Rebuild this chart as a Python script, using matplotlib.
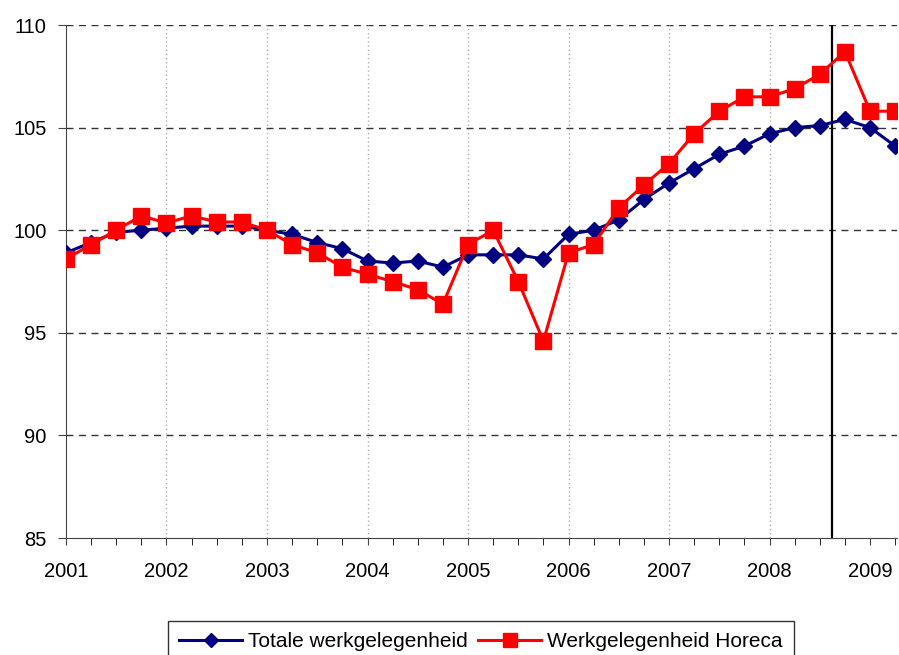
import numpy as np
import matplotlib.pyplot as plt

plt.rcParams['font.family'] = ['Liberation Sans', 'DejaVu Sans']

# quarterly index, 2001Q1 .. 2009Q2
quarters = np.arange(2001, 2009.26, 0.25)
totaal = [98.9, 99.4, 99.9, 100.0, 100.1, 100.2, 100.2, 100.2,
          100.0, 99.8, 99.4, 99.1, 98.5, 98.4, 98.5, 98.2,
          98.8, 98.8, 98.8, 98.6, 99.8, 100.0, 100.5, 101.5,
          102.3, 103.0, 103.7, 104.1, 104.7, 105.0, 105.1, 105.4,
          105.0, 104.1]
horeca = [98.6, 99.3, 100.0, 100.7, 100.35, 100.7, 100.4, 100.4,
          100.0, 99.3, 98.9, 98.2, 97.85, 97.5, 97.1, 96.4,
          99.3, 100.0, 97.5, 94.6, 98.9, 99.3, 101.1, 102.2,
          103.25, 104.7, 105.8, 106.5, 106.5, 106.9, 107.6, 108.7,
          105.8, 105.8]
years = list(range(2001, 2010))
marker_line = 2008.62

fig = plt.figure(figsize=(8.99, 6.55), dpi=100)
ax = fig.add_axes([0.0734, 0.1786, 0.9246, 0.7832])

# gridlines
for y in [90, 95, 100, 105, 110]:
  ax.axhline(y, color='#333333', lw=1, ls=(0, (5, 4)), zorder=1)
for yr in years[1:-1]:
  ax.axvline(yr, color='#b0b0b0', lw=1, ls=(0, (1, 2)), zorder=1)

ax.axvline(marker_line, color='black', lw=1.6, zorder=2)

ax.plot(quarters, totaal, color='#000080', lw=2.2, marker='D', ms=8.5,
        label='Totale werkgelegenheid', zorder=3)
ax.plot(quarters, horeca, color='#ff0000', lw=2.2, marker='s', ms=12,
        label='Werkgelegenheid Horeca', zorder=4)

ax.set_xlim(2001, 2009.27)
ax.set_ylim(85, 110)
ax.set_yticks([85, 90, 95, 100, 105, 110])
ax.set_xticks(years)
ax.set_xticks(quarters, minor=True)
ax.tick_params(axis='both', labelsize=14.5, direction='out', color='#444444')
ax.tick_params(axis='y', length=6, pad=8)
ax.tick_params(axis='x', which='both', length=5, pad=12)

for s in ['top', 'right']:
  ax.spines[s].set_visible(False)
for s in ['left', 'bottom']:
  ax.spines[s].set_color('#444444')

leg = fig.legend(loc='lower center', bbox_to_anchor=(0.535, -0.028), ncol=2,
                 fontsize=15, frameon=True, fancybox=False, edgecolor='black',
                 handlelength=3, columnspacing=0.5, handletextpad=0.3,
                 borderpad=0.55, markerscale=0.85)
leg.get_frame().set_linewidth(1)

fig.savefig('out.png', dpi=100)
